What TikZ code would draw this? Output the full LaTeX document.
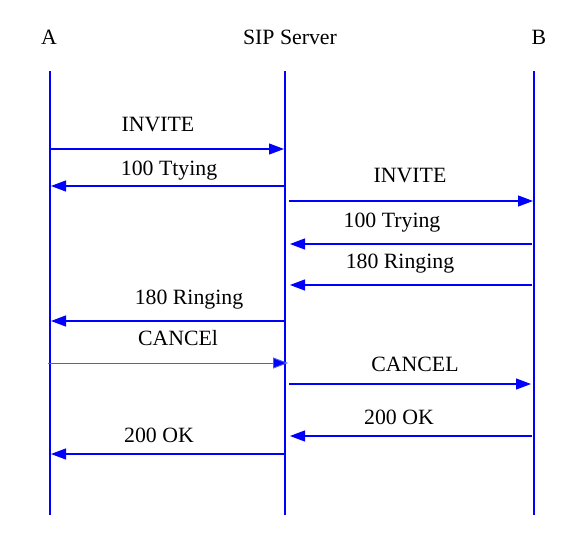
\documentclass[tikz,border=0pt]{standalone}
\usepackage{fontspec}
\setmainfont{Liberation Serif}
\usetikzlibrary{arrows.meta}
\definecolor{lineblue}{RGB}{0,0,255}
\definecolor{thinblue}{RGB}{70,90,255}
\begin{document}
\begin{tikzpicture}[x=1pt,y=-1pt,
  lifeline/.style={draw=lineblue,line width=1.3pt},
  msg/.style={draw=lineblue,line width=1.1pt,-{Triangle[length=15pt,width=11pt]}},
  thinmsg/.style={draw=thinblue,line width=0.9pt,-{Triangle[length=15pt,width=11pt,fill=lineblue]}},
  lbl/.style={font=\fontsize{21.8}{24}\selectfont,inner sep=0pt,anchor=base},
  head/.style={font=\fontsize{21.8}{24}\selectfont,inner sep=0pt,anchor=base}]
\useasboundingbox (0,0) rectangle (582,536);
\fill[white] (0,0) rectangle (582,536);
% headers
\node[head] (hA) at (49,44.5) {A};
\node[head] (hS) at (290,44.5) {SIP Server};
\node[head] (hB) at (539,44.5) {B};
% lifelines
\coordinate (At) at (50,71);  \coordinate (Ab) at (50,515);
\coordinate (St) at (285,71); \coordinate (Sb) at (285,515);
\coordinate (Bt) at (534,71); \coordinate (Bb) at (534,515);
\draw[lifeline] (At) -- (Ab);
\draw[lifeline] (St) -- (Sb);
\draw[lifeline] (Bt) -- (Bb);
% message endpoints
\coordinate (a1) at (50,149);  \coordinate (s1) at (284,149);
\coordinate (s2) at (285,186); \coordinate (a2) at (51,186);
\coordinate (s3) at (289,201); \coordinate (b3) at (533,201);
\coordinate (b4) at (532,244); \coordinate (s4) at (290,244);
\coordinate (b5) at (532,285); \coordinate (s5) at (290,285);
\coordinate (s6) at (285,321); \coordinate (a6) at (51,321);
\coordinate (a7) at (48,363);  \coordinate (s7) at (288,363);
\coordinate (s8) at (289,384); \coordinate (b8) at (531,384);
\coordinate (b9) at (532,436); \coordinate (s9) at (290,436);
\coordinate (s10) at (285,454); \coordinate (a10) at (51,454);
% messages
\draw[msg] (a1) -- (s1);
\node[lbl] (l1) at (158,131) {INVITE};
\draw[msg] (s2) -- (a2);
\node[lbl] (l2) at (169,175) {100 Ttying};
\draw[msg] (s3) -- (b3);
\node[lbl] (l3) at (410,182) {INVITE};
\draw[msg] (b4) -- (s4);
\node[lbl] (l4) at (392,227) {100 Trying};
\draw[msg] (b5) -- (s5);
\node[lbl] (l5) at (400,268) {180 Ringing};
\draw[msg] (s6) -- (a6);
\node[lbl] (l6) at (189,304) {180 Ringing};
\draw[thinmsg] (a7) -- (s7);
\node[lbl] (l7) at (178,345) {CANCEl};
\draw[msg] (s8) -- (b8);
\node[lbl] (l8) at (415,371) {CANCEL};
\draw[msg] (b9) -- (s9);
\node[lbl] (l9) at (399,424) {200 OK};
\draw[msg] (s10) -- (a10);
\node[lbl] (l10) at (159,442) {200 OK};
\end{tikzpicture}
\end{document}
